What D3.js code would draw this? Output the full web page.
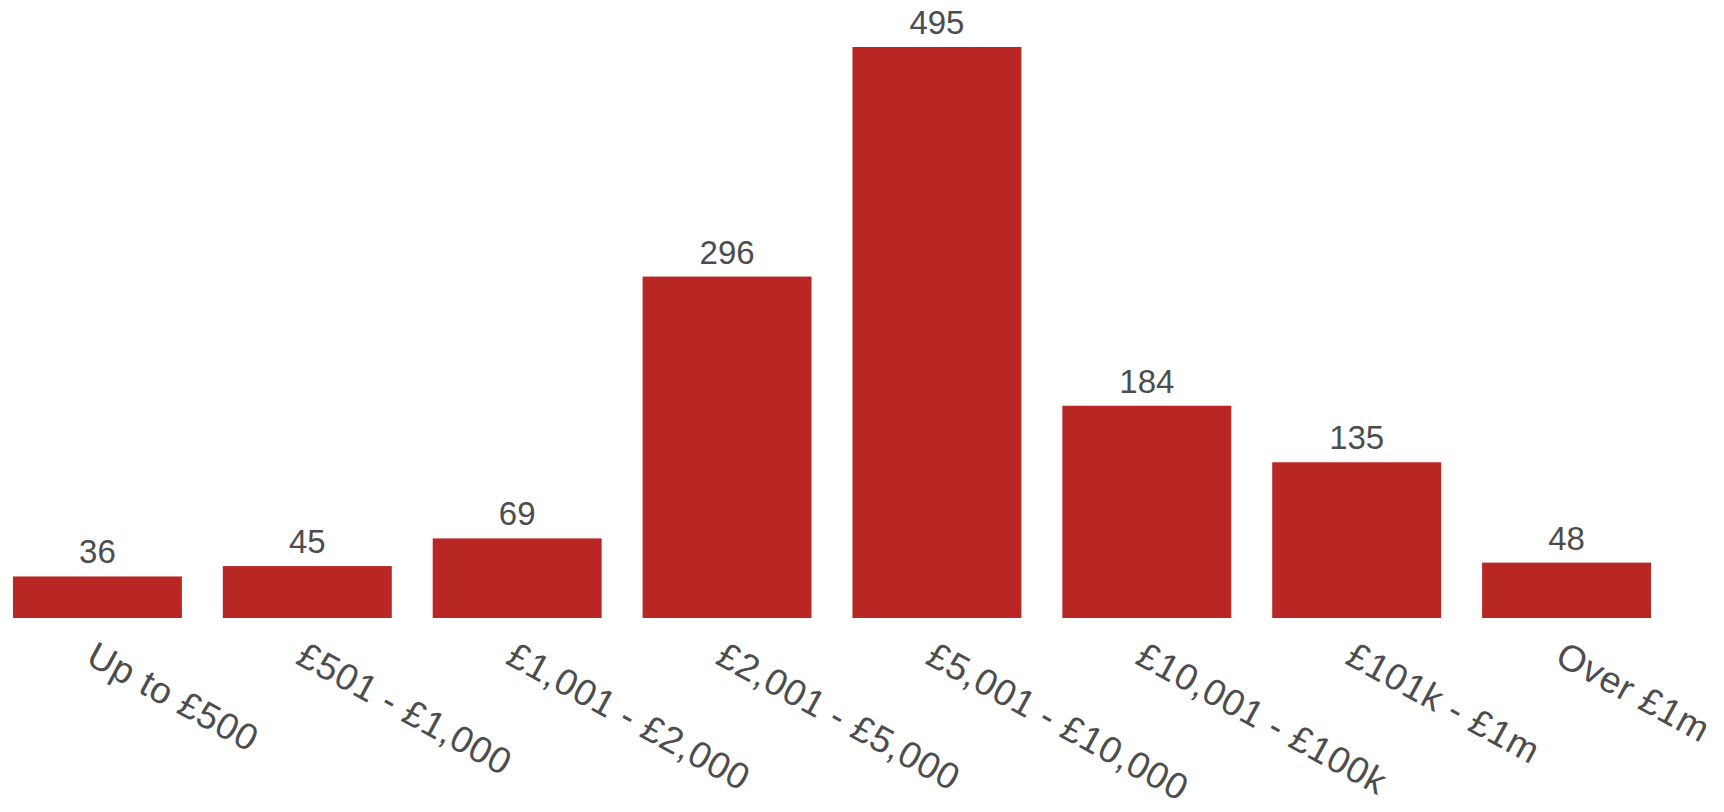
<!DOCTYPE html>
<html>
<head>
<meta charset="utf-8">
<script src="https://cdn.jsdelivr.net/npm/d3@7"></script>
<style>
  html, body { margin: 0; padding: 0; background: #fff; }
  svg text { font-family: "Liberation Sans", Helvetica, Arial, sans-serif; fill: #4d4d4d; }
</style>
</head>
<body>
<svg id="chart" width="1724" height="812"></svg>
<script>
// Donation bands and counts.
var categories = ['Up to £500', '£501 - £1,000', '£1,001 - £2,000',
    '£2,001 - £5,000', '£5,001 - £10,000', '£10,001 - £100k',
    '£101k - £1m', 'Over £1m'];
var counts = [36, 45, 69, 296, 495, 184, 135, 48];

var baseline = 618, plotTop = 47;

var svg = d3.select('#chart');

var x = d3.scaleBand()
    .domain(categories)
    .range([-7.5, 1671.5])
    .paddingInner(0.195)
    .paddingOuter(0.0975);

var y = d3.scaleLinear()
    .domain([0, d3.max(counts)])
    .range([baseline, plotTop]);

var data = categories.map(function(c, i) {
  return {cat: c, value: counts[i]};
});

// Bars.
svg.append('g').selectAll('rect')
    .data(data)
    .enter().append('rect')
    .attr('x', function(d) { return x(d.cat); })
    .attr('y', function(d) { return y(d.value); })
    .attr('width', x.bandwidth())
    .attr('height', function(d) { return baseline - y(d.value); })
    .attr('fill', '#b92725');

// Value labels above bars.
svg.append('g').selectAll('text')
    .data(data)
    .enter().append('text')
    .attr('x', function(d) { return x(d.cat) + x.bandwidth() / 2; })
    .attr('y', function(d) { return y(d.value) - 13; })
    .attr('text-anchor', 'middle')
    .style('font-size', '33px')
    .text(function(d) { return d.value; });

// Category axis, labels rotated.
var axis = svg.append('g')
    .attr('transform', 'translate(0,' + baseline + ')')
    .call(d3.axisBottom(x).tickSize(0).tickPadding(0));
axis.select('.domain').remove();
axis.selectAll('.tick text')
    .attr('x', 0).attr('y', 0).attr('dy', null)
    .attr('text-anchor', 'start')
    .attr('transform', 'translate(-13,45) rotate(28.5)')
    .style('font-size', '37px')
    .style('letter-spacing', '0.7px')
    .style('font-family', '"Liberation Sans", Helvetica, Arial, sans-serif')
    .style('fill', '#4d4d4d');
</script>
</body>
</html>
